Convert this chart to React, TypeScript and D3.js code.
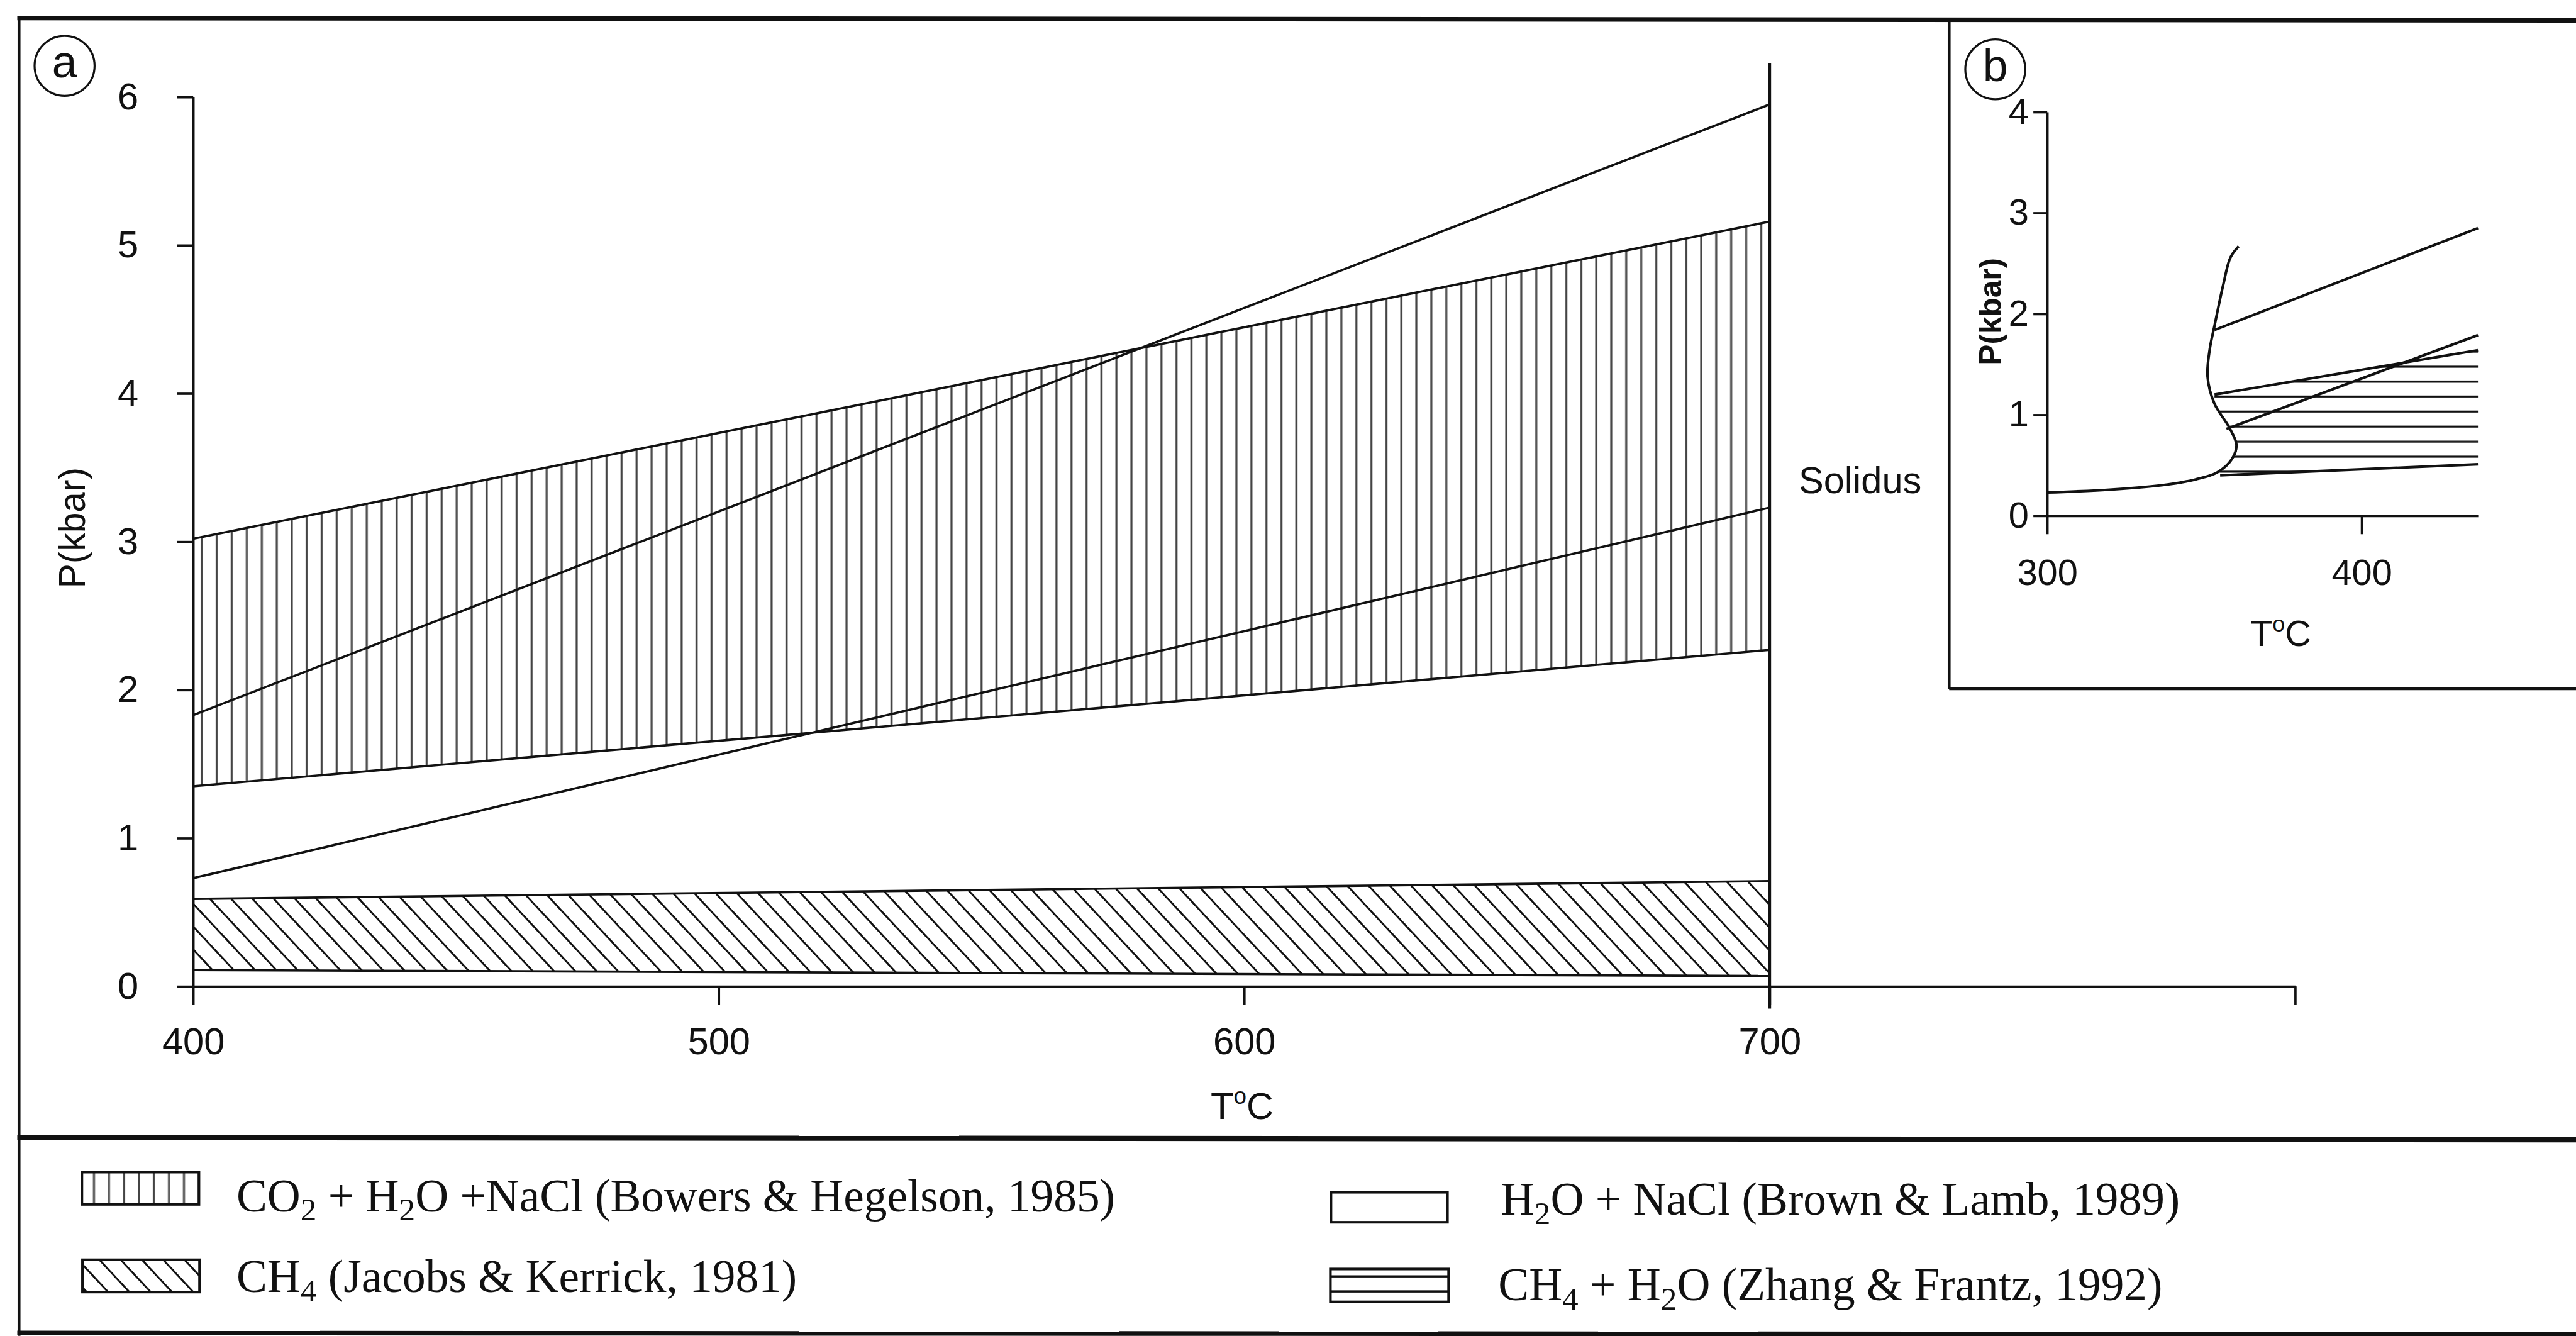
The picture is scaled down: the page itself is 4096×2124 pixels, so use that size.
import React, { useEffect, useRef } from 'react';
import * as d3 from 'd3';

// panel (a): P-T fields, values read at 400 and 700 oC
const mainTempTicks = [400, 500, 600, 700, 800];
const mainPressTicks = [0, 1, 2, 3, 4, 5, 6];
const bandTemps = [400, 700];
const co2Top = [3.02, 5.16];
const co2Bottom = [1.35, 2.27];
const ch4Top = [0.59, 0.71];
const ch4Bottom = [0.11, 0.07];
const isochoreHigh = [1.83, 5.95];
const isochoreLow = [0.73, 3.23];
const solidusTemp = 700;
const solidusPress = [-0.15, 6.23];

// panel (b)
const insetTempTicks = [300, 400];
const insetPressTicks = [0, 1, 2, 3, 4];
const curveTemps = [300, 320.6, 338.3, 347.2, 354.1, 358.7, 360.2, 357.8, 353.2, 351, 351.7, 353.2, 356, 358.3, 360.9];
const curvePress = [0.23, 0.26, 0.31, 0.36, 0.43, 0.56, 0.7, 0.88, 1.11, 1.38, 1.65, 1.88, 2.29, 2.56, 2.67];
const insetUpperTemps = [353.2, 437];
const insetUpperPress = [1.84, 2.85];
const insetMidTemps = [357, 437];
const insetMidPress = [0.86, 1.79];
const zfTopTemps = [353.2, 437];
const zfTopPress = [1.2, 1.64];
const zfBottomTemps = [355, 437];
const zfBottomPress = [0.4, 0.51];

const W = 4467;
const H = 2316;
const INK = '#111';
const SANS = "'Liberation Sans', Arial, Helvetica, sans-serif";
const SERIF = "'Liberation Serif', 'Times New Roman', serif";

const App = () => {
  const svgRef = useRef<SVGSVGElement>(null);

  useEffect(() => {
    document.body.style.margin = '0';
    document.body.style.overflow = 'hidden';
    const svg = d3.select(svgRef.current);
    svg.selectAll('*').remove();
    svg.append('rect').attr('width', W).attr('height', H).attr('fill', '#fff');

    // hatch patterns
    const defs = svg.append('defs');
    const hatch = (id, w, h, px, py, rot, seg, color, sw) => {
      const p = defs.append('pattern')
        .attr('id', id)
        .attr('patternUnits', 'userSpaceOnUse')
        .attr('x', px).attr('y', py)
        .attr('width', w).attr('height', h);
      if (rot) p.attr('patternTransform', `rotate(${rot})`);
      p.append('line')
        .attr('x1', seg[0]).attr('y1', seg[1]).attr('x2', seg[2]).attr('y2', seg[3])
        .attr('stroke', color).attr('stroke-width', sw);
    };
    hatch('vh', 26, 26, 337, 0, 0, [13, -2, 13, 28], '#444', 3.5);
    hatch('vhLeg', 26, 26, 150, 0, 0, [13, -2, 13, 28], '#444', 3.5);
    hatch('dh', 27, 27, 0, 0, -43, [13.5, -2, 13.5, 29], INK, 3.3);
    hatch('hh', 26, 26, 0, 622.6, 0, [-2, 13, 28, 13], INK, 3.5);
    hatch('hhLeg', 26, 26, 0, 2200, 0, [-2, 13, 28, 13], INK, 4);

    // frame
    const frame = svg.append('g').attr('stroke', INK).attr('fill', 'none');
    frame.append('line').attr('x1', 30).attr('y1', 31).attr('x2', W).attr('y2', 35).attr('stroke-width', 8);
    frame.append('line').attr('x1', 33).attr('y1', 28).attr('x2', 33).attr('y2', H).attr('stroke-width', 5);
    frame.append('line').attr('x1', 30).attr('y1', 1972).attr('x2', W).attr('y2', 1976).attr('stroke-width', 9);
    frame.append('line').attr('x1', 30).attr('y1', 2311).attr('x2', W).attr('y2', 2313).attr('stroke-width', 8);
    frame.append('line').attr('x1', 3380).attr('y1', 36).attr('x2', 3380).attr('y2', 1194).attr('stroke-width', 5);
    frame.append('line').attr('x1', 3380).attr('y1', 1194).attr('x2', W).attr('y2', 1194).attr('stroke-width', 5);

    // ---- panel (a)
    const x = d3.scaleLinear().domain([400, 800]).range([335, 3980]);
    const y = d3.scaleLinear().domain([0, 6]).range([1710, 168]);
    const area = d3.area().x(d => x(d[0])).y0(d => y(d[1])).y1(d => y(d[2]));
    const line = d3.line().x(d => x(d[0])).y(d => y(d[1]));

    const co2 = bandTemps.map((t, i) => [t, co2Bottom[i], co2Top[i]]);
    const ch4 = bandTemps.map((t, i) => [t, ch4Bottom[i], ch4Top[i]]);

    svg.append('path').attr('d', area(co2)).attr('fill', 'url(#vh)');
    svg.append('path').attr('d', area(ch4)).attr('fill', 'url(#dh)');

    const mainLines = [
      bandTemps.map((t, i) => [t, co2Top[i]]),
      bandTemps.map((t, i) => [t, co2Bottom[i]]),
      bandTemps.map((t, i) => [t, ch4Top[i]]),
      bandTemps.map((t, i) => [t, ch4Bottom[i]]),
      bandTemps.map((t, i) => [t, isochoreHigh[i]]),
      bandTemps.map((t, i) => [t, isochoreLow[i]]),
    ];
    svg.append('g').selectAll('path')
      .data(mainLines)
      .enter()
      .append('path')
      .attr('d', d => line(d))
      .attr('fill', 'none')
      .attr('stroke', INK)
      .attr('stroke-width', 4);

    svg.append('path')
      .attr('d', line(solidusPress.map(p => [solidusTemp, p])))
      .attr('stroke', INK)
      .attr('stroke-width', 5);

    const styleAxis = (g, size) => {
      g.attr('font-size', size).attr('font-family', SANS);
      g.selectAll('path, line').attr('stroke', INK).attr('stroke-width', 4);
      g.selectAll('text').attr('fill', INK);
    };

    const gx = svg.append('g')
      .attr('transform', `translate(0,${y(0)})`)
      .call(d3.axisBottom(x).tickValues(mainTempTicks).tickSize(32).tickSizeOuter(0).tickPadding(40)
        .tickFormat(d => (d === 800 ? '' : d3.format('d')(d))));
    styleAxis(gx, 65);

    const gy = svg.append('g')
      .attr('transform', `translate(${x(400)},0)`)
      .call(d3.axisLeft(y).tickValues(mainPressTicks).tickSize(28).tickSizeOuter(0).tickPadding(67)
        .tickFormat(d3.format('d')));
    styleAxis(gy, 65);

    svg.append('text')
      .attr('transform', 'translate(147,915) rotate(-90)')
      .attr('text-anchor', 'middle')
      .attr('font-family', SANS).attr('font-size', 64).attr('fill', INK)
      .text('P(kbar)');

    const tLabel = (cx, by, size) => {
      const t = svg.append('text')
        .attr('x', cx).attr('y', by)
        .attr('text-anchor', 'middle')
        .attr('font-family', SANS).attr('font-size', size).attr('fill', INK);
      t.append('tspan').text('T');
      t.append('tspan').attr('font-size', size * 0.62).attr('dy', -size * 0.4).text('o');
      t.append('tspan').attr('dy', size * 0.4).text('C');
    };
    tLabel(2154, 1940, 65);

    svg.append('text')
      .attr('x', 3119).attr('y', 855)
      .attr('font-family', SANS).attr('font-size', 65).attr('fill', INK)
      .text('Solidus');

    const badge = (cx, cy, r, s, size) => {
      svg.append('circle').attr('cx', cx).attr('cy', cy).attr('r', r)
        .attr('fill', 'none').attr('stroke', INK).attr('stroke-width', 3.5);
      svg.append('text').attr('x', cx).attr('y', cy + size * 0.26)
        .attr('text-anchor', 'middle')
        .attr('font-family', SANS).attr('font-size', size).attr('fill', INK)
        .text(s);
    };
    badge(112, 114, 52, 'a', 78);
    badge(3460, 120, 52, 'b', 78);

    // ---- panel (b)
    const xi = d3.scaleLinear().domain([300, 437]).range([3550, 4297]);
    const yi = d3.scaleLinear().domain([0, 4]).range([894, 194]);
    const lineI = d3.line().x(d => xi(d[0])).y(d => yi(d[1]));
    const curvePts = curveTemps.map((t, i) => [t, curvePress[i]]);

    const pBot = zfBottomPress[0];
    const pTop = zfTopPress[0];
    const edge = curvePts.filter(d => d[1] > pBot && d[1] < pTop);
    const region = [
      [zfBottomTemps[0], pBot],
      ...edge,
      [zfTopTemps[0], pTop],
      [zfTopTemps[1], zfTopPress[1]],
      [zfBottomTemps[1], zfBottomPress[1]],
    ];
    svg.append('path')
      .attr('d', d3.line().x(d => xi(d[0])).y(d => yi(d[1])).curve(d3.curveLinearClosed)(region))
      .attr('fill', 'url(#hh)');

    svg.append('path')
      .attr('d', d3.line().x(d => xi(d[0])).y(d => yi(d[1])).curve(d3.curveCatmullRom.alpha(0.5))(curvePts))
      .attr('fill', 'none').attr('stroke', INK).attr('stroke-width', 4.5);

    const insetLines = [
      insetUpperTemps.map((t, i) => [t, insetUpperPress[i]]),
      insetMidTemps.map((t, i) => [t, insetMidPress[i]]),
      zfTopTemps.map((t, i) => [t, zfTopPress[i]]),
      zfBottomTemps.map((t, i) => [t, zfBottomPress[i]]),
    ];
    svg.append('g').selectAll('path')
      .data(insetLines)
      .enter()
      .append('path')
      .attr('d', d => lineI(d))
      .attr('fill', 'none')
      .attr('stroke', INK)
      .attr('stroke-width', 4.5);

    const gxi = svg.append('g')
      .attr('transform', `translate(0,${yi(0)})`)
      .call(d3.axisBottom(xi).tickValues(insetTempTicks).tickSize(32).tickSizeOuter(0).tickPadding(43)
        .tickFormat(d3.format('d')));
    styleAxis(gxi, 63);

    const gyi = svg.append('g')
      .attr('transform', `translate(${xi(300)},0)`)
      .call(d3.axisLeft(yi).tickValues(insetPressTicks).tickSize(24).tickSizeOuter(0).tickPadding(8)
        .tickFormat(d3.format('d')));
    styleAxis(gyi, 63);

    svg.append('text')
      .attr('transform', 'translate(3470,540) rotate(-90)')
      .attr('text-anchor', 'middle')
      .attr('font-family', SANS).attr('font-size', 54).attr('font-weight', 'bold').attr('fill', INK)
      .text('P(kbar)');
    tLabel(3955, 1120, 63);

    // ---- legend
    const legend = [
      { sx: 142, sy: 2032, sw: 203, sh: 56, fill: 'url(#vhLeg)', tx: 410, ty: 2100,
        parts: [['CO'], ['2', 1], [' + H'], ['2', 1], ['O +NaCl (Bowers & Hegelson, 1985)']] },
      { sx: 143, sy: 2184, sw: 203, sh: 56, fill: 'url(#dh)', tx: 410, ty: 2240,
        parts: [['CH'], ['4', 1], [' (Jacobs & Kerrick, 1981)']] },
      { sx: 2308, sy: 2067, sw: 202, sh: 52, fill: '#fff', tx: 2603, ty: 2106,
        parts: [['H'], ['2', 1], ['O + NaCl (Brown & Lamb, 1989)']] },
      { sx: 2307, sy: 2200, sw: 205, sh: 57, fill: 'url(#hhLeg)', tx: 2598, ty: 2254,
        parts: [['CH'], ['4', 1], [' + H'], ['2', 1], ['O (Zhang & Frantz, 1992)']] },
    ];
    legend.forEach(item => {
      svg.append('rect')
        .attr('x', item.sx).attr('y', item.sy).attr('width', item.sw).attr('height', item.sh)
        .attr('fill', item.fill).attr('stroke', INK).attr('stroke-width', 4.5);
      const t = svg.append('text')
        .attr('x', item.tx).attr('y', item.ty)
        .attr('font-family', SERIF).attr('font-size', 80).attr('fill', INK);
      let shifted = false;
      item.parts.forEach(([s, sub]) => {
        const span = t.append('tspan').text(s);
        if (sub) {
          span.attr('font-size', 56).attr('dy', 16);
          shifted = true;
        } else if (shifted) {
          span.attr('dy', -16);
          shifted = false;
        }
      });
    });
  }, []);

  return (
    <svg
      ref={svgRef}
      width={4096}
      height={2124}
      viewBox={`0 0 ${W} ${H}`}
      style={{ position: 'absolute', left: 0, top: 0, display: 'block', color: INK }}
    />
  );
};

export default App;
